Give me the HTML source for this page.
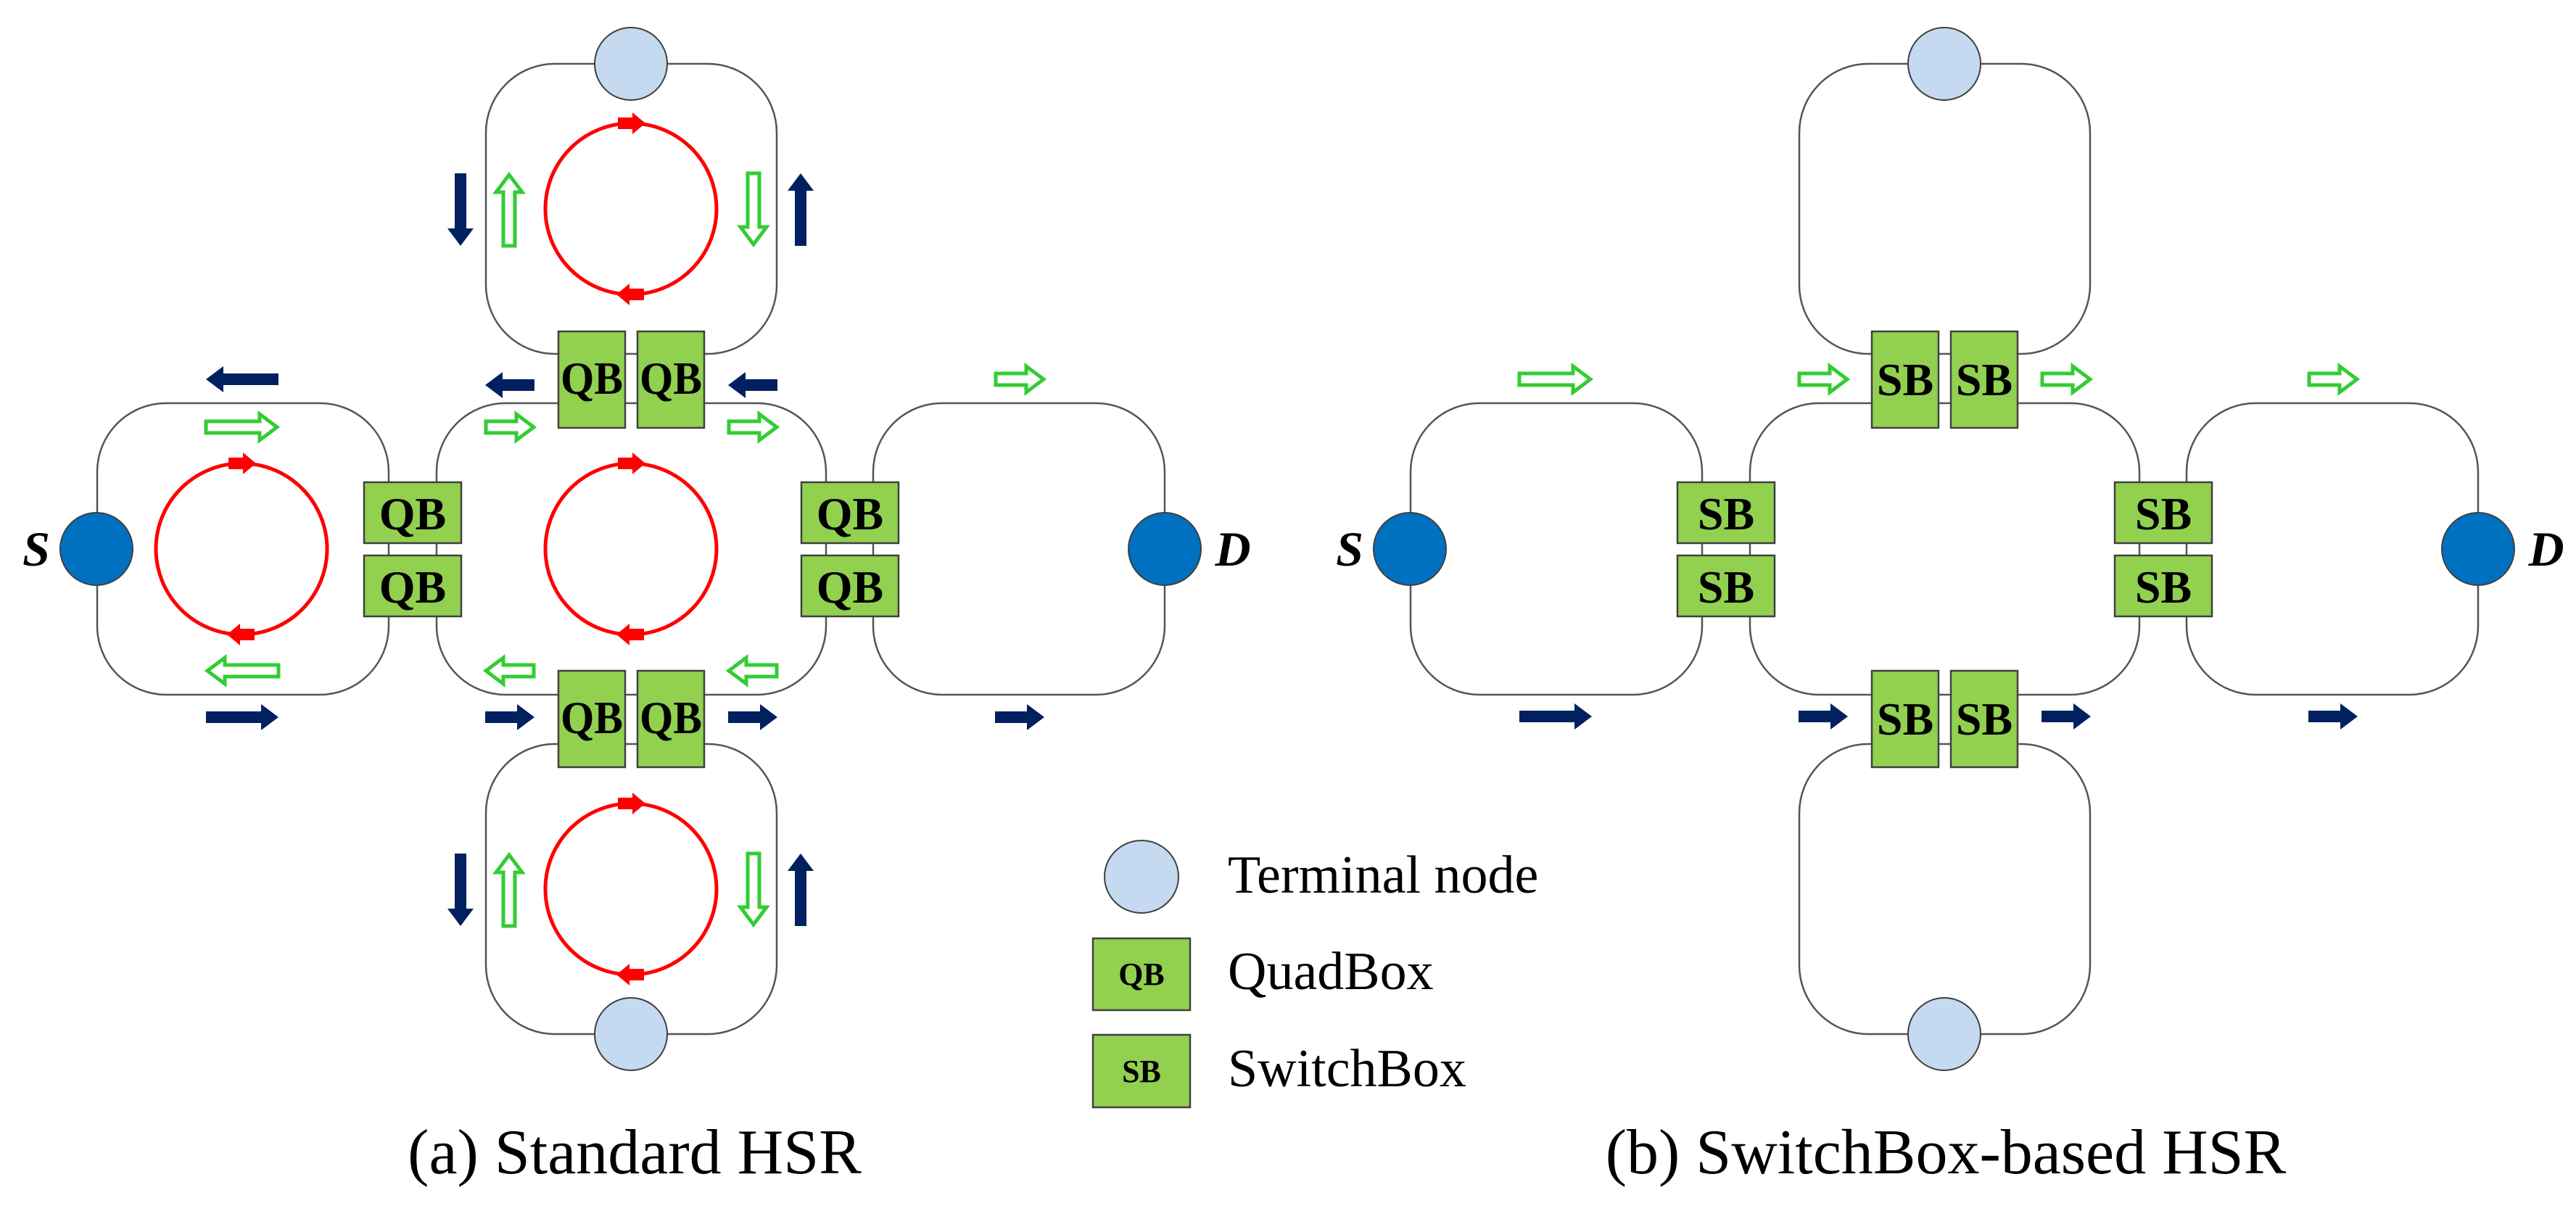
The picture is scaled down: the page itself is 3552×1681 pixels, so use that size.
<!DOCTYPE html>
<html><head><meta charset="utf-8"><style>
html,body{margin:0;padding:0;background:#fff}
svg{display:block}
text{font-family:"Liberation Serif",serif}
</style></head><body>
<svg width="3552" height="1681" viewBox="0 0 3552 1681" xmlns="http://www.w3.org/2000/svg">
<defs>
<path id="nL" d="M-50,-8 H26 V-18 L50,0 L26,18 V8 H-50 Z" fill="#002060"/>
<path id="nS" d="M-34,-8 H10 V-18 L34,0 L10,18 V8 H-34 Z" fill="#002060"/>
<path id="gL" d="M-50,-8 H24 V-18 L48,0 L24,18 V8 H-50 Z" fill="#fff" stroke="#33cc33" stroke-width="5"/>
<path id="gS" d="M-33,-8 H9 V-18 L33,0 L9,18 V8 H-33 Z" fill="#fff" stroke="#33cc33" stroke-width="5"/>
<path id="rA" d="M-20,-8 H0 V-15 L18,0 L0,15 V8 H-20 Z" fill="#ff0000"/>
</defs>

<!-- ===== (a) ===== -->
<g fill="none" stroke="#555" stroke-width="2.5">
<rect x="670" y="88" width="401" height="400" rx="95"/>
<rect x="670" y="1026" width="401" height="400" rx="95"/>
<rect x="134" y="556" width="402" height="402" rx="95"/>
<rect x="602" y="556" width="537" height="402" rx="95"/>
<rect x="1204" y="556" width="402" height="402" rx="95"/>
</g>
<g fill="none" stroke="#ff0000" stroke-width="5">
<circle cx="870" cy="288" r="118"/>
<circle cx="870" cy="1226" r="118"/>
<circle cx="333" cy="757" r="118"/>
<circle cx="870" cy="757" r="118"/>
</g>
<use href="#rA" transform="translate(872,170)"/>
<use href="#rA" transform="translate(868,406) rotate(180)"/>
<use href="#rA" transform="translate(872,1108)"/>
<use href="#rA" transform="translate(868,1344) rotate(180)"/>
<use href="#rA" transform="translate(335,639)"/>
<use href="#rA" transform="translate(331,875) rotate(180)"/>
<use href="#rA" transform="translate(872,639)"/>
<use href="#rA" transform="translate(868,875) rotate(180)"/>

<g stroke="#404040" stroke-width="2">
<circle cx="870" cy="88" r="50" fill="#c5d9f1"/>
<circle cx="870" cy="1426" r="50" fill="#c5d9f1"/>
<circle cx="133" cy="757" r="50" fill="#0070c0"/>
<circle cx="1606" cy="757" r="50" fill="#0070c0"/>
</g>
<text x="50" y="780" font-size="68" font-weight="bold" font-style="italic" text-anchor="middle">S</text>
<text x="1700" y="780" font-size="68" font-weight="bold" font-style="italic" text-anchor="middle">D</text>

<g fill="#92d050" stroke="#404040" stroke-width="2.5">
<rect x="770" y="457" width="92" height="133"/>
<rect x="879" y="457" width="92" height="133"/>
<rect x="770" y="925" width="92" height="133"/>
<rect x="879" y="925" width="92" height="133"/>
<rect x="502" y="665" width="134" height="84"/>
<rect x="502" y="766" width="134" height="84"/>
<rect x="1105" y="665" width="134" height="84"/>
<rect x="1105" y="766" width="134" height="84"/>
</g>
<g font-size="64" font-weight="bold" text-anchor="middle">
<text x="816" y="543" textLength="86" lengthAdjust="spacingAndGlyphs">QB</text><text x="925" y="543" textLength="86" lengthAdjust="spacingAndGlyphs">QB</text>
<text x="816" y="1011" textLength="86" lengthAdjust="spacingAndGlyphs">QB</text><text x="925" y="1011" textLength="86" lengthAdjust="spacingAndGlyphs">QB</text>
<text x="569" y="730">QB</text><text x="569" y="831">QB</text>
<text x="1172" y="730">QB</text><text x="1172" y="831">QB</text>
</g>

<use href="#nL" transform="translate(334,523) rotate(180)"/>
<use href="#gL" transform="translate(334,589)"/>
<use href="#gL" transform="translate(334,925) rotate(180)"/>
<use href="#nL" transform="translate(334,989)"/>
<use href="#nS" transform="translate(703,531) rotate(180)"/>
<use href="#nS" transform="translate(1038,531) rotate(180)"/>
<use href="#gS" transform="translate(703,589)"/>
<use href="#gS" transform="translate(1038,589)"/>
<use href="#gS" transform="translate(703,925) rotate(180)"/>
<use href="#gS" transform="translate(1038,925) rotate(180)"/>
<use href="#nS" transform="translate(703,989)"/>
<use href="#nS" transform="translate(1038,989)"/>
<use href="#gS" transform="translate(1406,523)"/>
<use href="#nS" transform="translate(1406,989)"/>
<use href="#nL" transform="translate(635,289) rotate(90)"/>
<use href="#gL" transform="translate(702,289) rotate(-90)"/>
<use href="#gL" transform="translate(1039,289) rotate(90)"/>
<use href="#nL" transform="translate(1104,289) rotate(-90)"/>
<use href="#nL" transform="translate(635,1227) rotate(90)"/>
<use href="#gL" transform="translate(702,1227) rotate(-90)"/>
<use href="#gL" transform="translate(1039,1227) rotate(90)"/>
<use href="#nL" transform="translate(1104,1227) rotate(-90)"/>

<ellipse cx="1574" cy="1209" rx="51" ry="50" fill="#c5d9f1" stroke="#404040" stroke-width="2"/>
<rect x="1507" y="1294" width="134" height="99" fill="#92d050" stroke="#404040" stroke-width="2.5"/>
<rect x="1507" y="1427" width="134" height="100" fill="#92d050" stroke="#404040" stroke-width="2.5"/>
<text x="1574" y="1358" font-size="44" font-weight="bold" text-anchor="middle">QB</text>
<text x="1574" y="1492" font-size="44" font-weight="bold" text-anchor="middle">SB</text>
<g font-size="74">
<text x="1693" y="1231">Terminal node</text>
<text x="1693" y="1364">QuadBox</text>
<text x="1693" y="1498">SwitchBox</text>
</g>

<text x="875" y="1618" font-size="88" text-anchor="middle">(a) Standard HSR</text>
<text x="2683" y="1618" font-size="88" text-anchor="middle">(b) SwitchBox-based HSR</text>

<!-- ===== (b) ===== -->
<g transform="translate(1811,0)">
<g fill="none" stroke="#555" stroke-width="2.5">
<rect x="670" y="88" width="401" height="400" rx="95"/>
<rect x="670" y="1026" width="401" height="400" rx="95"/>
<rect x="134" y="556" width="402" height="402" rx="95"/>
<rect x="602" y="556" width="537" height="402" rx="95"/>
<rect x="1204" y="556" width="402" height="402" rx="95"/>
</g>
<g stroke="#404040" stroke-width="2">
<circle cx="870" cy="88" r="50" fill="#c5d9f1"/>
<circle cx="870" cy="1426" r="50" fill="#c5d9f1"/>
<circle cx="133" cy="757" r="50" fill="#0070c0"/>
<circle cx="1606" cy="757" r="50" fill="#0070c0"/>
</g>
<text x="50" y="780" font-size="68" font-weight="bold" font-style="italic" text-anchor="middle">S</text>
<text x="1700" y="780" font-size="68" font-weight="bold" font-style="italic" text-anchor="middle">D</text>
<g fill="#92d050" stroke="#404040" stroke-width="2.5">
<rect x="770" y="457" width="92" height="133"/>
<rect x="879" y="457" width="92" height="133"/>
<rect x="770" y="925" width="92" height="133"/>
<rect x="879" y="925" width="92" height="133"/>
<rect x="502" y="665" width="134" height="84"/>
<rect x="502" y="766" width="134" height="84"/>
<rect x="1105" y="665" width="134" height="84"/>
<rect x="1105" y="766" width="134" height="84"/>
</g>
<g font-size="64" font-weight="bold" text-anchor="middle">
<text x="816" y="545">SB</text><text x="925" y="545">SB</text>
<text x="816" y="1013">SB</text><text x="925" y="1013">SB</text>
<text x="569" y="730">SB</text><text x="569" y="831">SB</text>
<text x="1172" y="730">SB</text><text x="1172" y="831">SB</text>
</g>
<use href="#gL" transform="translate(334,523)"/>
<use href="#nL" transform="translate(334,988)"/>
<use href="#gS" transform="translate(703,523)"/>
<use href="#gS" transform="translate(1038,523)"/>
<use href="#nS" transform="translate(703,988)"/>
<use href="#nS" transform="translate(1038,988)"/>
<use href="#gS" transform="translate(1406,523)"/>
<use href="#nS" transform="translate(1406,988)"/>
</g>
</svg>
</body></html>
